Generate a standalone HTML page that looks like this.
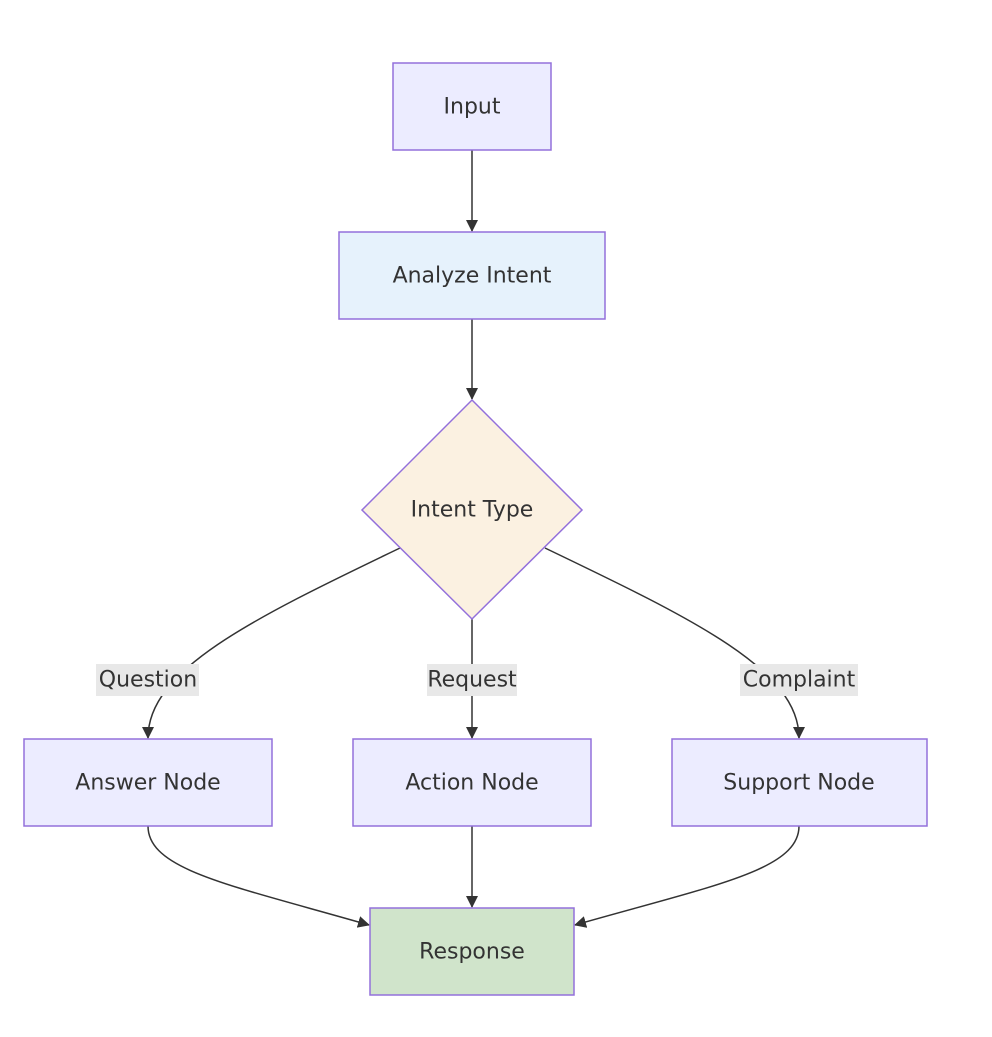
<!DOCTYPE html>
<html><head><style>
html,body{margin:0;padding:0;background:#fff;}
svg text{font-family:"DejaVu Sans","Liberation Sans",sans-serif;font-size:22px;fill:#333;text-anchor:middle;dominant-baseline:central;}
</style></head><body>
<svg width="992" height="1032" viewBox="0 0 992 1032" xmlns="http://www.w3.org/2000/svg">
<defs><marker id="a" markerWidth="12" markerHeight="12" refX="11" refY="6" orient="auto" markerUnits="userSpaceOnUse"><path d="M0,0L12,6L0,12z" fill="#333"/></marker></defs>
<g fill="none" stroke="#333" stroke-width="1.5">
<path d="M472,150V231" marker-end="url(#a)"/>
<path d="M472,319V399" marker-end="url(#a)"/>
<path d="M472,619V738" marker-end="url(#a)"/>
<path d="M400,548C250,620 148,670 148,738" marker-end="url(#a)"/>
<path d="M545,548C695,620 799,670 799,738" marker-end="url(#a)"/>
<path d="M472,826V907" marker-end="url(#a)"/>
<path d="M148,826C148,870 230,885 369,925" marker-end="url(#a)"/>
<path d="M799,826C799,870 715,885 575,925" marker-end="url(#a)"/>
</g>
<g stroke="#9370DB" stroke-width="1.5">
<rect x="393" y="63" width="158" height="87" fill="#ECECFF"/>
<rect x="339" y="232" width="266" height="87" fill="#E6F2FC"/>
<path d="M472,400L582,510L472,619L362,510Z" fill="#FBF1E1"/>
<rect x="24" y="739" width="248" height="87" fill="#ECECFF"/>
<rect x="353" y="739" width="238" height="87" fill="#ECECFF"/>
<rect x="672" y="739" width="255" height="87" fill="#ECECFF"/>
<rect x="370" y="908" width="204" height="87" fill="#D0E4CB"/>
</g>
<g fill="#e8e8e8">
<rect x="96" y="664" width="103" height="32"/>
<rect x="427" y="664" width="90" height="32"/>
<rect x="740" y="664" width="118" height="32"/>
</g>
<text x="472" y="107">Input</text>
<text x="472" y="276">Analyze Intent</text>
<text x="472" y="510">Intent Type</text>
<text x="148" y="680">Question</text>
<text x="472" y="680">Request</text>
<text x="799" y="680">Complaint</text>
<text x="148" y="783">Answer Node</text>
<text x="472" y="783">Action Node</text>
<text x="799" y="783">Support Node</text>
<text x="472" y="952">Response</text>
</svg>
</body></html>
